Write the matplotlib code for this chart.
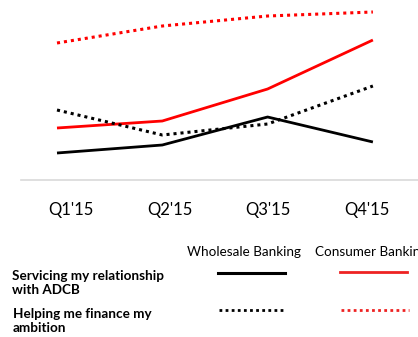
import matplotlib
matplotlib.use("Agg")
import matplotlib.pyplot as plt
from matplotlib.lines import Line2D

categories = ["Q1'15", "Q2'15", "Q3'15", "Q4'15"]
wholesale_servicing = [27, 35, 63, 38]
consumer_servicing = [52, 59, 91, 140]
wholesale_finance = [70, 45, 56, 94]
consumer_finance = [137, 154, 164, 168]
column_labels = ["Wholesale Banking", "Consumer Banking"]
row_labels = ["Servicing my relationship\nwith ADCB", "Helping me finance my\nambition"]

W, H = 418, 337
fig = plt.figure(figsize=(W / 100, H / 100), dpi=100)
FONT = "Lato"

rect = [21 / W, (H - 180) / H, (W - 21) / W, 180 / H]
ax = fig.add_axes(rect)
x = list(range(len(categories)))
dot = (0, (1, 1.3))
ax.plot(x, wholesale_servicing, color="black", lw=2.0, solid_capstyle="butt")
ax.plot(x, consumer_servicing, color="#ff0000", lw=2.0, solid_capstyle="butt")
ax.plot(x, wholesale_finance, color="black", lw=2.2, linestyle=dot)
ax.plot(x, consumer_finance, color="#ff0000", lw=2.2, linestyle=dot)
ax.set_xlim(-36 / 105.3, (418 - 57) / 105.3)
ax.set_ylim(0, 180)
for s in ["top", "right", "left"]:
    ax.spines[s].set_visible(False)
ax.spines["bottom"].set_color("#d9d9d9")
ax.spines["bottom"].set_linewidth(1.2)
ax.set_yticks([])
ax.set_xticks([])
ax.patch.set_alpha(0)

# category label axis
ax2 = fig.add_axes(rect)
ax2.set_xlim(-0.507, 3.516)
ax2.set_ylim(0, 1)
ax2.set_xticks(x)
ax2.set_xticklabels(categories, fontsize=12, family=FONT, color="#000000")
ax2.tick_params(axis="x", length=0, pad=16)
ax2.set_yticks([])
for s in ax2.spines.values():
    s.set_visible(False)
ax2.patch.set_alpha(0)

def fx(px):
    return px / W

def fy(py):
    return 1 - py / H

fig.text(fx(244), fy(252), column_labels[0], ha="center", va="center", fontsize=9.7, family=FONT)
fig.text(fx(315), fy(252), column_labels[1], ha="left", va="center", fontsize=9.7, family=FONT)
fig.text(fx(12), fy(283), row_labels[0], ha="left", va="center", fontsize=9.7, family=FONT,
         weight="bold", linespacing=1.3)
fig.text(fx(13), fy(321), row_labels[1], ha="left", va="center", fontsize=9.7, family=FONT,
         weight="bold", linespacing=1.3)

fig.add_artist(Line2D([fx(218), fx(285)], [fy(273), fy(273)], color="black", lw=2.2,
                      transform=fig.transFigure))
fig.add_artist(Line2D([fx(340), fx(407)], [fy(272), fy(272)], color="#ee2222", lw=2.0,
                      transform=fig.transFigure))
fig.add_artist(Line2D([fx(219), fx(286)], [fy(310), fy(310)], color="black", lw=2.0,
                      linestyle=(0, (1, 1.2)), transform=fig.transFigure))
fig.add_artist(Line2D([fx(341), fx(409)], [fy(310), fy(310)], color="#ee2222", lw=2.0,
                      linestyle=(0, (1, 1.2)), transform=fig.transFigure))

fig.savefig("out.png", dpi=100)
